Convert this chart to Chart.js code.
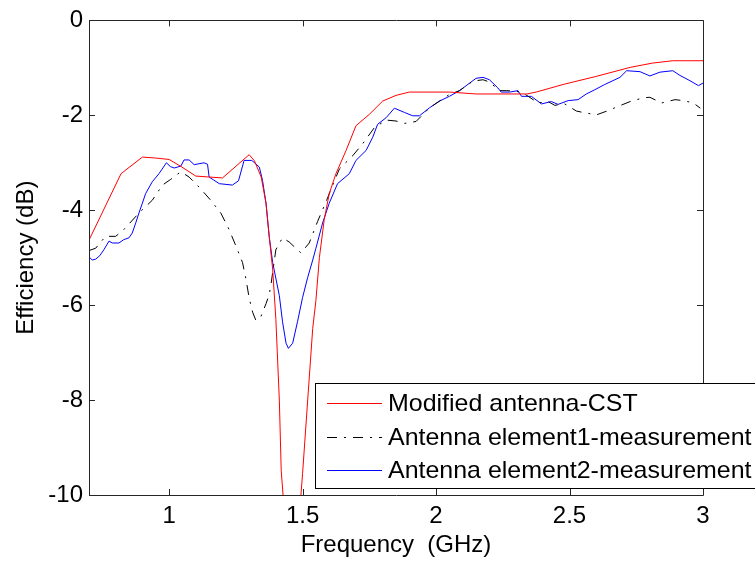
<!DOCTYPE html>
<html>
<head>
<meta charset="utf-8">
<script src="https://cdn.jsdelivr.net/npm/chart.js@4/dist/chart.umd.min.js"></script>
<style>
  html, body { margin: 0; padding: 0; background: #ffffff; }
  #wrap { width: 755px; height: 562px; }
</style>
</head>
<body>
<div id="wrap"><canvas id="eff" width="755" height="562"></canvas></div>
<script>
// Simulated efficiency of the modified antenna (CST)
const freqCST = [0.70, 0.82, 0.90, 0.95, 1.00, 1.045, 1.10, 1.20, 1.30, 1.32, 1.345, 1.363, 1.375, 1.388, 1.40, 1.413, 1.42, 1.46, 1.50, 1.519, 1.538, 1.55, 1.563, 1.581, 1.60, 1.625, 1.663, 1.70, 1.75, 1.80, 1.85, 1.90, 2.05, 2.15, 2.34, 2.375, 2.476, 2.60, 2.727, 2.81, 2.887, 3.00];
const effCST  = [-4.63, -3.23, -2.88, -2.90, -2.93, -3.08, -3.28, -3.32, -2.83, -2.96, -3.30, -3.85, -4.55, -5.24, -6.30, -8.00, -9.48, -12.5, -9.55, -8.02, -6.49, -5.90, -5.00, -4.20, -3.65, -3.23, -2.74, -2.22, -1.98, -1.70, -1.58, -1.51, -1.51, -1.55, -1.55, -1.51, -1.35, -1.18, -0.99, -0.90, -0.85, -0.85];

// Measured efficiency, antenna element 1
const freqEl1 = [0.700, 0.725, 0.762, 0.800, 0.830, 0.887, 0.937, 0.975, 1.006, 1.044, 1.075, 1.112, 1.156, 1.194, 1.225, 1.256, 1.275, 1.288, 1.300, 1.313, 1.325, 1.344, 1.363, 1.375, 1.382, 1.388, 1.400, 1.425, 1.450, 1.494, 1.525, 1.556, 1.588, 1.613, 1.638, 1.688, 1.725, 1.769, 1.813, 1.850, 1.882, 1.925, 1.976, 2.050, 2.088, 2.138, 2.176, 2.200, 2.238, 2.263, 2.300, 2.332, 2.382, 2.420, 2.445, 2.482, 2.526, 2.551, 2.601, 2.645, 2.670, 2.727, 2.777, 2.801, 2.845, 2.895, 2.926, 2.964, 2.990];
const effEl1  = [-4.85, -4.80, -4.55, -4.55, -4.41, -4.06, -3.79, -3.47, -3.35, -3.19, -3.30, -3.51, -3.79, -4.06, -4.41, -4.83, -5.10, -5.45, -5.85, -6.15, -6.32, -6.24, -5.97, -5.78, -5.55, -5.31, -4.83, -4.58, -4.67, -4.90, -4.69, -4.24, -3.82, -3.47, -3.13, -2.85, -2.60, -2.26, -2.10, -2.12, -2.17, -2.13, -1.84, -1.56, -1.48, -1.28, -1.25, -1.30, -1.48, -1.48, -1.49, -1.55, -1.74, -1.71, -1.79, -1.76, -1.91, -1.94, -1.99, -1.90, -1.84, -1.71, -1.63, -1.62, -1.74, -1.67, -1.69, -1.74, -1.85];

// Measured efficiency, antenna element 2
const freqEl2 = [0.700, 0.712, 0.725, 0.740, 0.756, 0.775, 0.787, 0.812, 0.830, 0.850, 0.862, 0.875, 0.887, 0.900, 0.912, 0.937, 0.962, 0.990, 1.005, 1.019, 1.044, 1.056, 1.075, 1.094, 1.131, 1.144, 1.150, 1.188, 1.237, 1.260, 1.281, 1.310, 1.338, 1.350, 1.363, 1.375, 1.388, 1.413, 1.425, 1.438, 1.447, 1.463, 1.481, 1.500, 1.519, 1.538, 1.550, 1.575, 1.600, 1.631, 1.675, 1.700, 1.738, 1.763, 1.781, 1.813, 1.844, 1.882, 1.913, 1.938, 1.976, 2.013, 2.050, 2.088, 2.126, 2.150, 2.176, 2.200, 2.213, 2.231, 2.244, 2.276, 2.307, 2.320, 2.357, 2.395, 2.432, 2.457, 2.495, 2.532, 2.563, 2.595, 2.632, 2.670, 2.689, 2.714, 2.764, 2.801, 2.839, 2.887, 2.914, 2.951, 2.983, 3.000];
const effEl2  = [-4.98, -5.05, -5.03, -4.96, -4.83, -4.65, -4.69, -4.69, -4.62, -4.58, -4.48, -4.27, -4.06, -3.85, -3.65, -3.40, -3.23, -3.00, -3.08, -3.11, -3.07, -2.94, -2.94, -3.04, -3.00, -3.03, -3.30, -3.44, -3.47, -3.38, -2.95, -2.95, -3.09, -3.37, -3.85, -4.55, -5.10, -5.80, -6.35, -6.80, -6.91, -6.80, -6.35, -5.84, -5.42, -5.05, -4.80, -4.27, -3.85, -3.44, -3.23, -2.95, -2.74, -2.46, -2.19, -2.05, -1.85, -1.94, -2.01, -2.01, -1.84, -1.70, -1.60, -1.48, -1.32, -1.22, -1.20, -1.25, -1.32, -1.42, -1.51, -1.51, -1.48, -1.60, -1.60, -1.76, -1.71, -1.77, -1.69, -1.67, -1.55, -1.46, -1.35, -1.25, -1.20, -1.06, -1.08, -1.17, -1.09, -1.06, -1.16, -1.27, -1.375, -1.32];

const seriesNames = ['Modified antenna-CST', 'Antenna element1-measurement', 'Antenna element2-measurement'];
const xTickValues = [1, 1.5, 2, 2.5, 3];
const xTickLabels = ['1', '1.5', '2', '2.5', '3'];
const yTickValues = [-10, -8, -6, -4, -2, 0];
const yTickLabels = ['-10', '-8', '-6', '-4', '-2', '0'];

const FONT = "'Liberation Sans', Arial, Helvetica, sans-serif";
const AXIS_COLOR = '#262626';

function toPoints(xs, ys) {
  return xs.map((x, i) => ({ x: x, y: ys[i] }));
}

// Box frame with inward tick marks on all four sides
const framePlugin = {
  id: 'frame',
  afterDatasetsDraw(chart) {
    const { ctx, chartArea: a, scales } = chart;
    const len = 6;
    ctx.save();
    ctx.strokeStyle = AXIS_COLOR;
    ctx.lineWidth = 1;
    ctx.beginPath();
    ctx.rect(Math.round(a.left) + 0.5, Math.round(a.top) + 0.5, Math.round(a.right - a.left), Math.round(a.bottom - a.top));
    scales.x.ticks.forEach(t => {
      const px = Math.round(scales.x.getPixelForValue(t.value)) + 0.5;
      ctx.moveTo(px, a.bottom); ctx.lineTo(px, a.bottom - len);
      ctx.moveTo(px, a.top); ctx.lineTo(px, a.top + len);
    });
    scales.y.ticks.forEach(t => {
      const py = Math.round(scales.y.getPixelForValue(t.value)) + 0.5;
      ctx.moveTo(a.left, py); ctx.lineTo(a.left + len, py);
      ctx.moveTo(a.right, py); ctx.lineTo(a.right - len, py);
    });
    ctx.stroke();
    ctx.restore();
  }
};

// Legend box anchored in the lower right of the plot
const boxLegendPlugin = {
  id: 'boxLegend',
  afterDraw(chart) {
    const { ctx } = chart;
    const o = chart.options.plugins.boxLegend;
    const ds = chart.data.datasets;
    ctx.save();
    ctx.fillStyle = '#ffffff';
    ctx.fillRect(o.left, o.top, o.width, o.height);
    ctx.strokeStyle = '#000000';
    ctx.lineWidth = 1;
    ctx.strokeRect(o.left + 0.5, o.top + 0.5, o.width, o.height);
    ctx.font = o.fontSize + 'px ' + FONT;
    ctx.textBaseline = 'middle';
    ctx.textAlign = 'left';
    ds.forEach((d, i) => {
      const y = Math.round(o.top + o.firstRow + i * o.rowGap) + 0.5;
      ctx.strokeStyle = d.borderColor;
      ctx.lineWidth = d.borderWidth;
      ctx.setLineDash(d.borderDash || []);
      ctx.beginPath();
      ctx.moveTo(o.left + o.lineStart, y);
      ctx.lineTo(o.left + o.lineEnd, y);
      ctx.stroke();
      ctx.setLineDash([]);
      ctx.fillStyle = '#000000';
      ctx.save();
      ctx.translate(o.left + o.textStart, y + 1);
      ctx.scale(o.textStretch, 1);
      ctx.fillText(d.label, 0, 0);
      ctx.restore();
    });
    ctx.restore();
  }
};

new Chart(document.getElementById('eff'), {
  type: 'line',
  data: {
    datasets: [
      { label: seriesNames[0], data: toPoints(freqCST, effCST), borderColor: '#ff0000', borderWidth: 1, pointRadius: 0, tension: 0, fill: false },
      { label: seriesNames[1], data: toPoints(freqEl1, effEl1), borderColor: '#000000', borderWidth: 1, borderDash: [10, 7, 2, 7], pointRadius: 0, tension: 0, fill: false },
      { label: seriesNames[2], data: toPoints(freqEl2, effEl2), borderColor: '#0000ff', borderWidth: 1, pointRadius: 0, tension: 0, fill: false }
    ]
  },
  options: {
    responsive: false,
    animation: false,
    devicePixelRatio: 1,
    layout: { padding: { left: 0, top: 15, right: 52, bottom: 0 } },
    plugins: {
      legend: { display: false },
      tooltip: { enabled: false },
      boxLegend: { left: 315, top: 383, width: 480, height: 105, firstRow: 20, rowGap: 33.5, lineStart: 12, lineEnd: 67, textStart: 73, fontSize: 24, textStretch: 1.04 }
    },
    scales: {
      x: {
        type: 'linear',
        min: 0.7,
        max: 3,
        afterBuildTicks: s => { s.ticks = xTickValues.map(v => ({ value: v })); },
        afterFit: s => { s.height = 67; },
        grid: { display: false, drawTicks: false },
        border: { display: false },
        ticks: {
          color: '#000000',
          padding: 7,
          font: { family: FONT, size: 24, lineHeight: 1.2 },
          maxRotation: 0,
          callback: v => xTickLabels[xTickValues.indexOf(v)]
        },
        title: { display: true, text: 'Frequency  (GHz)', color: '#000000', font: { family: FONT, size: 24, lineHeight: 1.2 }, padding: { top: 0, bottom: 2 } }
      },
      y: {
        type: 'linear',
        min: -10,
        max: 0,
        afterBuildTicks: s => { s.ticks = yTickValues.map(v => ({ value: v })); },
        afterFit: s => { s.width = 89; },
        grid: { display: false, drawTicks: false },
        border: { display: false },
        ticks: {
          color: '#000000',
          padding: 6,
          font: { family: FONT, size: 24, lineHeight: 1.2 },
          callback: v => yTickLabels[yTickValues.indexOf(v)]
        },
        title: { display: true, text: 'Efficiency (dB)', color: '#000000', font: { family: FONT, size: 24, lineHeight: 1.2 }, padding: { top: 12, bottom: 0 } }
      }
    }
  },
  plugins: [framePlugin, boxLegendPlugin]
});
</script>
</body>
</html>
